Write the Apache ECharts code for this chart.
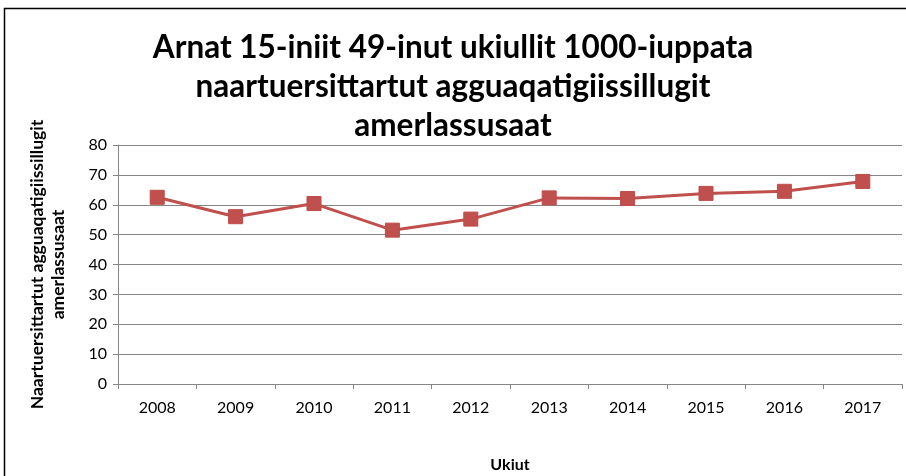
<!DOCTYPE html>
<html><head><meta charset="utf-8">
<script src="https://cdn.jsdelivr.net/npm/echarts@6/dist/echarts.min.js"></script>
<style>html,body{margin:0;padding:0;background:#fff}#c{width:906px;height:476px}</style>
</head><body><div id="c"></div>
<script>
const years = ['2008','2009','2010','2011','2012','2013','2014','2015','2016','2017'];
const rates = [62.5, 56.0, 60.4, 51.5, 55.2, 62.3, 62.1, 63.8, 64.5, 67.8];
const titleText = 'Arnat 15-iniit 49-inut ukiullit 1000-iuppata\nnaartuersittartut agguaqatigiissillugit\namerlassusaat';
const yName = 'Naartuersittartut agguaqatigiissillugit\namerlassusaat';
const xName = 'Ukiut';
const font = 'Lato';
const chart = echarts.init(document.getElementById('c'), null, {renderer:'canvas'});
chart.setOption({
  animation:false,
  backgroundColor:'#fff',
  graphic:[{type:'rect',shape:{x:4.5,y:8.5,width:1000,height:1000},style:{fill:'none',stroke:'#000',lineWidth:1.5},z:-1}],
  title:{text:titleText,left:'center',top:23,textStyle:{fontFamily:font,fontSize:31.5,fontWeight:'bold',color:'#000',lineHeight:39}},
  grid:{left:118,right:4,top:145,bottom:92,outerBoundsMode:'none',containLabel:false},
  xAxis:{type:'category',data:years,boundaryGap:true,
    name:xName,nameLocation:'middle',nameGap:73,nameTextStyle:{fontFamily:font,fontSize:16,fontWeight:'bold',color:'#000'},
    axisLine:{lineStyle:{color:'#868686',width:1}},
    axisTick:{show:true,length:5,inside:false,alignWithLabel:false,lineStyle:{color:'#868686'}},
    axisLabel:{fontFamily:font,fontSize:16,color:'#000',margin:16}},
  yAxis:{type:'value',min:0,max:80,interval:10,
    name:yName,nameLocation:'middle',nameGap:49,nameRotate:90,nameTextStyle:{fontFamily:font,fontSize:17.5,fontWeight:'bold',color:'#000',lineHeight:21},
    axisLine:{show:true,lineStyle:{color:'#868686',width:1}},
    axisTick:{show:true,length:5,lineStyle:{color:'#868686'}},
    splitLine:{lineStyle:{color:'#868686',width:1}},
    axisLabel:{fontFamily:font,fontSize:16,color:'#000',margin:11}},
  series:[{type:'line',data:rates,symbol:'rect',symbolSize:14,
    lineStyle:{color:'#C0504D',width:3},itemStyle:{color:'#C0504D',borderColor:'#BE4B48',borderWidth:1}}]
});
</script></body></html>
